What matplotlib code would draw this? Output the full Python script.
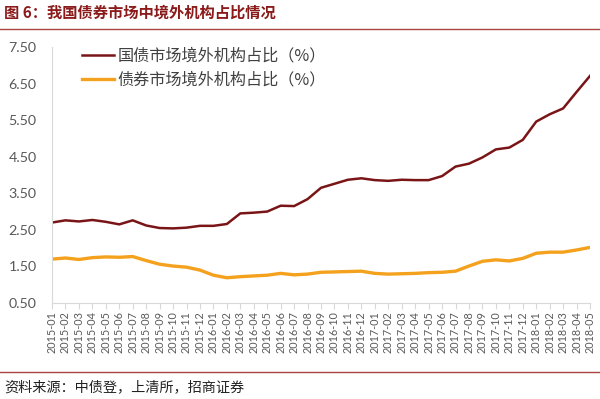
import matplotlib
matplotlib.use("Agg")
import matplotlib.pyplot as plt
from matplotlib.lines import Line2D
import numpy as np

plt.rcParams['font.family'] = ['Noto Sans CJK SC', 'DejaVu Sans']

months = [f"{y}-{m:02d}" for y, m in
          [(2015, i) for i in range(1, 13)] + [(2016, i) for i in range(1, 13)] +
          [(2017, i) for i in range(1, 13)] + [(2018, i) for i in range(1, 6)]]

gov_bond = [2.70, 2.76, 2.73, 2.77, 2.72, 2.65, 2.76, 2.62, 2.55, 2.54, 2.56, 2.61,
            2.61, 2.66, 2.95, 2.97, 3.00, 3.16, 3.15, 3.34, 3.65, 3.76, 3.87, 3.91,
            3.86, 3.84, 3.87, 3.86, 3.86, 3.97, 4.23, 4.31, 4.48, 4.70, 4.75, 4.96,
            5.46, 5.66, 5.82, 6.27, 6.71]

all_bond = [1.70, 1.73, 1.69, 1.74, 1.76, 1.75, 1.77, 1.66, 1.56, 1.51, 1.48, 1.40,
            1.26, 1.19, 1.22, 1.24, 1.26, 1.31, 1.27, 1.29, 1.34, 1.35, 1.36, 1.37,
            1.31, 1.29, 1.30, 1.31, 1.33, 1.34, 1.37, 1.51, 1.64, 1.68, 1.65, 1.72,
            1.86, 1.89, 1.89, 1.95, 2.02]

series_names = ["国债市场境外机构占比（%）", "债券市场境外机构占比（%）"]
y_ticks = [0.50, 1.50, 2.50, 3.50, 4.50, 5.50, 6.50, 7.50]

W, H = 600, 399
fig = plt.figure(figsize=(W / 100, H / 100), dpi=100)
ax = fig.add_axes([52 / W, 1 - 303 / H, (590 - 52) / W, (303 - 47) / H])

x = np.arange(len(months))
red = "#7A1517"
orange = "#F4A11D"
ax.plot(x, gov_bond, color=red, lw=1.8, solid_joinstyle="round")
ax.plot(x, all_bond, color=orange, lw=2.4, solid_joinstyle="round")

ax.set_xlim(0, len(months) - 1)
ax.set_ylim(0.5, 7.5)
ax.set_yticks(y_ticks)
ax.set_yticklabels([f"{v:.2f}" for v in y_ticks], fontsize=10.3, color="#595959",
                   family=["Lato", "DejaVu Sans"])
ax.tick_params(axis="y", length=0, pad=11)
ax.set_xticks(x)
ax.set_xticklabels(months, rotation=90, fontsize=7.8, color="#595959",
                   family=["Lato", "DejaVu Sans"])
ax.tick_params(axis="x", length=4, color="#D9D9D9", pad=2, direction="out")

for s in ["top", "right"]:
    ax.spines[s].set_visible(False)
for s in ["left", "bottom"]:
    ax.spines[s].set_color("#D9D9D9")
    ax.spines[s].set_linewidth(0.8)

handles = [Line2D([], [], color=red, lw=1.8), Line2D([], [], color=orange, lw=2.4)]
leg = ax.legend(handles, series_names, loc="upper left", bbox_to_anchor=(0.037, 1.035),
                frameon=False, fontsize=11.6, handlelength=2.0, handletextpad=0.25,
                labelspacing=0.4, borderaxespad=0.2)
for t in leg.get_texts():
    t.set_color("#404040")

# title and separators
fig.text(4 / W, 1 - 13 / H, "图 6：我国债券市场中境外机构占比情况", fontsize=11,
         fontweight="bold", color="#8B1A1A", va="center", ha="left")
fig.add_artist(Line2D([0, 1], [1 - 29 / H, 1 - 29 / H], color="#A84442", lw=1.0))
fig.add_artist(Line2D([0, 1], [1 - 372 / H, 1 - 372 / H], color="#A84442", lw=1.0))
fig.text(4 / W, 1 - 387 / H, "资料来源：中债登，上清所，招商证券", fontsize=10.2,
         color="#222222", va="center", ha="left")

fig.savefig("out.png", dpi=100)
